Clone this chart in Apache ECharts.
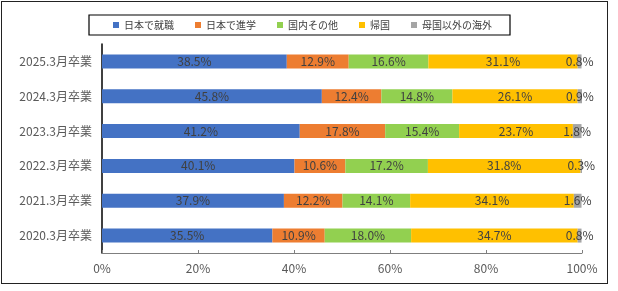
<!DOCTYPE html>
<html>
<head>
	<meta charset="utf-8">
	<title>ECharts</title>
	<script src="https://cdn.jsdelivr.net/npm/echarts@6/dist/echarts.min.js"></script>
	<style type="text/css">
		html, body {
			margin: 0;
			height: 100%;
			background: #fff;
		}
		#frame {
			position: absolute;
			left: 1px;
			top: 1px;
			width: 605px;
			height: 281px;
			border: 1.5px solid #222;
		}
		#main {
			position: absolute;
			left: 0;
			top: 0;
			width: 618px;
			height: 291px;
		}
	</style>
</head>
<body>
	<div id="frame"></div>
	<div id="main"></div>
	<script type="text/javascript">
		// 上から順に
		var years = ['2025.3月卒業', '2024.3月卒業', '2023.3月卒業', '2022.3月卒業', '2021.3月卒業', '2020.3月卒業'];
		var names = ['日本で就職', '日本で進学', '国内その他', '帰国', '母国以外の海外'];
		var colors = ['#4472C4', '#ED7D31', '#92D050', '#FFC000', '#A5A5A5'];

		var shushoku = [38.5, 45.8, 41.2, 40.1, 37.9, 35.5];
		var shingaku = [12.9, 12.4, 17.8, 10.6, 12.2, 10.9];
		var sonota   = [16.6, 14.8, 15.4, 17.2, 14.1, 18.0];
		var kikoku   = [31.1, 26.1, 23.7, 31.8, 34.1, 34.7];
		var kaigai   = [0.8, 0.9, 1.8, 0.3, 1.6, 0.8];

		var xTicks = [0, 20, 40, 60, 80, 100];

		var font = '"Noto Sans CJK JP", "Noto Sans", sans-serif';
		var allData = [shushoku, shingaku, sonota, kikoku, kaigai];

		var series = [];
		for (var i = 0; i < names.length; i++) {
			series.push({
				type: 'bar',
				name: names[i],
				stack: 'total',
				barWidth: 14,
				data: allData[i],
				itemStyle: {
					color: colors[i]
				},
				label: {
					show: true,
					position: 'inside',
					formatter: function (p) {
						return p.value.toFixed(1) + '%';
					},
					color: '#404040',
					fontSize: 12,
					fontFamily: font
				}
			});
		}

		var myChart = echarts.init(document.getElementById('main'));
		var option = {
			animation: false,
			textStyle: { fontFamily: font },
			legend: {
				data: names,
				left: 89,
				top: 15,
				padding: [5, 18, 5, 24],
				itemWidth: 6,
				itemHeight: 6,
				itemGap: 21,
				icon: 'rect',
				borderColor: '#000',
				borderWidth: 1.2,
				textStyle: {
					fontSize: 10,
					color: '#404040',
					fontFamily: font
				}
			},
			grid: {
				left: 102,
				right: 36,
				top: 44,
				bottom: 38
			},
			xAxis: {
				type: 'value',
				min: xTicks[0],
				max: xTicks[xTicks.length - 1],
				interval: 20,
				axisLine: {
					show: true,
					lineStyle: { color: '#7f7f7f', width: 1 }
				},
				axisTick: {
					show: true,
					inside: true,
					length: 3,
					lineStyle: { color: '#7f7f7f' }
				},
				splitLine: { show: false },
				axisLabel: {
					formatter: '{value}%',
					color: '#595959',
					fontSize: 12,
					margin: 9,
					fontFamily: font
				}
			},
			yAxis: {
				type: 'category',
				inverse: true,
				data: years,
				axisLine: {
					show: true,
					lineStyle: { color: '#000', width: 1.5 }
				},
				axisTick: { show: false },
				axisLabel: {
					color: '#595959',
					fontSize: 12,
					margin: 10,
					fontFamily: font
				}
			},
			series: series
		};
		myChart.setOption(option);
	</script>
</body>
</html>
